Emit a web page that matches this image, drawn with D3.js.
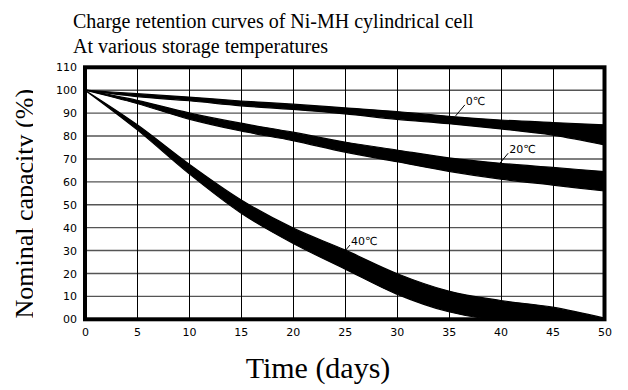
<!DOCTYPE html>
<html>
<head>
<meta charset="utf-8">
<script src="https://cdn.jsdelivr.net/npm/d3@7/dist/d3.min.js"></script>
<style>
  body { margin: 0; background: #fff; }
  svg { display: block; }
  .axis text { font-family: "DejaVu Sans", sans-serif; font-size: 11px; fill: #000; }
  .serif { font-family: "Liberation Serif", "Times New Roman", serif; fill: #000; }
  .lbl { font-family: "DejaVu Sans", sans-serif; font-size: 11px; fill: #000; }
</style>
</head>
<body>
<div id="chart"></div>
<script>
// storage time (days)
const days = [0, 5, 10, 15, 20, 25, 30, 35, 40, 45, 50];

// nominal capacity (%), upper / lower edge of each band
const upper0  = [100, 98.5, 97.0, 95.3, 93.9, 92.3, 90.7, 88.6, 87.0, 85.9, 84.9];
const lower0  = [100, 97.2, 95.4, 93.2, 91.6, 89.7, 87.3, 85.4, 83.1, 80.4, 76.1];
const upper20 = [100, 95.6, 90.1, 85.6, 81.7, 77.4, 73.9, 70.5, 68.1, 66.3, 64.5];
const lower20 = [100, 94.2, 87.4, 82.2, 78.0, 73.0, 68.8, 64.6, 61.2, 58.6, 56.0];
const upper40 = [100, 85.0, 67.8, 52.2, 39.9, 30.3, 20.0, 12.3, 8.2, 5.3, 0.5];
const lower40 = [100, 82.8, 63.6, 46.4, 33.2, 22.0, 11.0, 3.3, 0, 0, 0];

const bandNames = ["0℃", "20℃", "40℃"];
// label anchor: [day, value] of leader start, leader end
const labelPos = [[35.67, 88.8, 36.56, 93.6], [39.93, 68.1, 40.73, 72.5], [24.53, 27.1, 25.5, 32.4]];

const xTicks = [0, 5, 10, 15, 20, 25, 30, 35, 40, 45, 50];
const yTicks = [0, 10, 20, 30, 40, 50, 60, 70, 80, 90, 100, 110];
const yTickLabels = ["00", "10", "20", "30", "40", "50", "60", "70", "80", "90", "100", "110"];

const titleLines = ["Charge retention curves of Ni-MH cylindrical cell", "At various storage temperatures"];

const W = 628, H = 390;
const margin = {left: 85, right: 23.5, top: 67.3, bottom: 70.7};

const svg = d3.select("#chart").append("svg")
  .attr("width", W).attr("height", H);

const x = d3.scaleLinear().domain([0, 50]).range([margin.left, W - margin.right]);
const y = d3.scaleLinear().domain([0, 110]).range([H - margin.bottom, margin.top]);

// clip for plot content
svg.append("clipPath").attr("id", "plotclip")
  .append("rect")
  .attr("x", x(0)).attr("y", y(110))
  .attr("width", x(50) - x(0)).attr("height", y(0) - y(110));

// grid
svg.append("g").selectAll("line")
  .data(yTicks.filter(d => d > 0 && d < 110))
  .join("line")
  .attr("x1", x(0)).attr("x2", x(50))
  .attr("y1", d => y(d)).attr("y2", d => y(d))
  .attr("stroke", "#555").attr("stroke-width", 1.4);

svg.append("g").selectAll("line")
  .data(xTicks.filter(d => d > 0 && d < 50))
  .join("line")
  .attr("x1", d => Math.round(x(d)) + 0.5).attr("x2", d => Math.round(x(d)) + 0.5)
  .attr("y1", y(110)).attr("y2", y(0))
  .attr("stroke", "#000").attr("stroke-width", 1);

// bands
const bands = [
  days.map((d, i) => ({day: d, hi: upper0[i], lo: lower0[i]})),
  days.map((d, i) => ({day: d, hi: upper20[i], lo: lower20[i]})),
  days.map((d, i) => ({day: d, hi: upper40[i], lo: lower40[i]}))
];

const area = d3.area()
  .curve(d3.curveMonotoneX)
  .x(d => x(d.day))
  .y0(d => y(d.lo))
  .y1(d => y(d.hi));

svg.append("g").attr("clip-path", "url(#plotclip)")
  .selectAll("path")
  .data(bands)
  .join("path")
  .attr("d", area)
  .attr("fill", "#000")
  .attr("stroke", "#000")
  .attr("stroke-width", 1.2)
  .attr("stroke-linejoin", "round");

// labels with leader lines
const lab = svg.append("g");
lab.selectAll("line")
  .data(labelPos)
  .join("line")
  .attr("x1", d => x(d[0])).attr("y1", d => y(d[1]))
  .attr("x2", d => x(d[2])).attr("y2", d => y(d[3]))
  .attr("stroke", "#000").attr("stroke-width", 1);
lab.selectAll("text")
  .data(labelPos)
  .join("text")
  .attr("class", "lbl")
  .attr("x", d => x(d[2]) + 1)
  .attr("y", d => y(d[3]))
  .text((d, i) => bandNames[i]);

// frame
svg.append("rect")
  .attr("x", x(0)).attr("y", y(110))
  .attr("width", x(50) - x(0)).attr("height", y(0) - y(110))
  .attr("fill", "none").attr("stroke", "#000").attr("stroke-width", 4);

// axes
svg.append("g")
  .attr("class", "axis")
  .attr("transform", `translate(${x(0) - 3},0)`)
  .call(d3.axisLeft(y).tickValues(yTicks).tickSize(0).tickPadding(5)
    .tickFormat((d, i) => yTickLabels[i]))
  .call(g => g.select(".domain").remove());

svg.append("g")
  .attr("class", "axis")
  .attr("transform", `translate(0,${y(0) + 3})`)
  .call(d3.axisBottom(x).tickValues(xTicks).tickSize(0).tickPadding(6))
  .call(g => g.select(".domain").remove());

// titles
svg.append("g").selectAll("text")
  .data(titleLines)
  .join("text")
  .attr("class", "serif")
  .attr("x", 73)
  .attr("y", (d, i) => 28 + i * 25)
  .attr("font-size", 20)
  .text(d => d);

// y axis title (descender clipped like the source)
svg.append("clipPath").attr("id", "ylabclip")
  .append("rect").attr("x", 0).attr("y", 60).attr("width", 33).attr("height", 280);
svg.append("g")
  .attr("clip-path", "url(#ylabclip)")
  .append("text")
  .attr("class", "serif")
  .attr("transform", `translate(33,${(y(0) + y(100)) / 2 - 1}) rotate(-90)`)
  .attr("text-anchor", "middle")
  .attr("font-size", 26)
  .text("Nominal capacity (%)");

svg.append("text")
  .attr("class", "serif")
  .attr("x", 318)
  .attr("y", 378)
  .attr("text-anchor", "middle")
  .attr("font-size", 30)
  .text("Time (days)");
</script>
</body>
</html>
